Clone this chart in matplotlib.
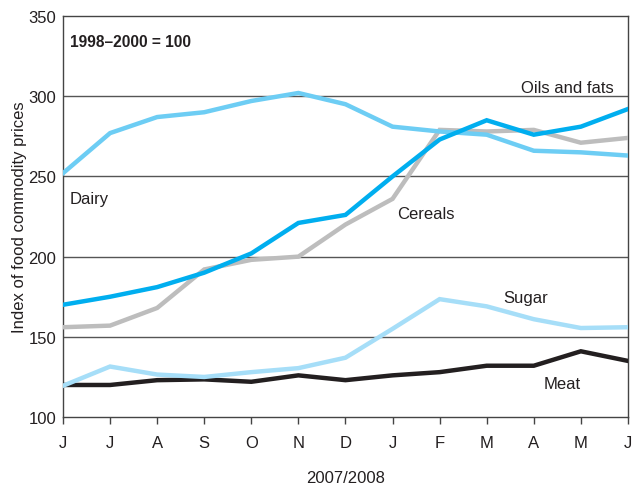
import matplotlib
matplotlib.use("Agg")
import matplotlib.pyplot as plt

months = ["J", "J", "A", "S", "O", "N", "D", "J", "F", "M", "A", "M", "J"]
dairy = [252, 277, 287, 290, 297, 302, 295, 281, 278, 276, 266, 265, 263]
oils = [170, 175, 181, 190, 202, 221, 226, 250, 273, 285, 276, 281, 292]
cereals = [156, 157, 168, 192, 198, 200, 220, 236, 279, 278, 279, 271, 274]
sugar = [119.5, 131.5, 126.5, 125, 128, 130.5, 137, 155, 173.5, 169, 161, 155.5, 156]
meat = [120, 120, 123, 123.5, 122, 126, 123, 126, 128, 132, 132, 141, 135]

plt.rcParams['font.family'] = ['Liberation Sans', 'DejaVu Sans']
fig = plt.figure(figsize=(6.33, 4.85), dpi=100)
ax = fig.add_axes([0.0995, 0.138, 0.8925, 0.827])
x = list(range(len(months)))
lw = 3.2
ax.plot(x, meat, color="#231f20", lw=lw, solid_joinstyle="miter", zorder=3)
ax.plot(x, sugar, color="#a6def8", lw=lw, solid_joinstyle="miter", zorder=4)
ax.plot(x, cereals, color="#bdbdbd", lw=lw, solid_joinstyle="miter", zorder=5)
ax.plot(x, dairy, color="#6dcdf4", lw=lw, solid_joinstyle="miter", zorder=6)
ax.plot(x, oils, color="#00aeef", lw=lw, solid_joinstyle="miter", zorder=7)

ax.set_xlim(0, 12)
ax.set_ylim(100, 350)
ax.set_xticks(x)
ax.set_xticklabels(months)
ax.set_yticks([100, 150, 200, 250, 300, 350])
for yv in [150, 200, 250, 300]:
    ax.axhline(yv, color="#555555", lw=1.0, zorder=1)
for s in ax.spines.values():
    s.set_color("#444444")
    s.set_linewidth(1.0)
fs = 12
ax.tick_params(axis='x', direction='out', length=5, width=1, color="#444444", labelsize=fs, pad=8, labelcolor="#231f20")
ax.tick_params(axis='y', length=0, labelsize=fs, pad=5, labelcolor="#231f20")
ax.set_ylabel("Index of food commodity prices", fontsize=fs, color="#231f20", labelpad=1)
ax.set_xlabel("2007/2008", fontsize=fs, color="#231f20", labelpad=14)

ax.text(0.15, 334, "1998–2000 = 100", fontsize=11.2, fontweight="bold", va="center", ha="left", color="#231f20")
ax.text(0.15, 236, "Dairy", fontsize=fs, va="center", ha="left", color="#231f20")
ax.text(9.73, 305.7, "Oils and fats", fontsize=fs, va="center", ha="left", color="#231f20")
ax.text(7.09, 227, "Cereals", fontsize=fs, va="center", ha="left", color="#231f20")
ax.text(9.35, 174.8, "Sugar", fontsize=fs, va="center", ha="left", color="#231f20")
ax.text(10.2, 121, "Meat", fontsize=fs, va="center", ha="left", color="#231f20")

fig.savefig("out.png", dpi=100)
